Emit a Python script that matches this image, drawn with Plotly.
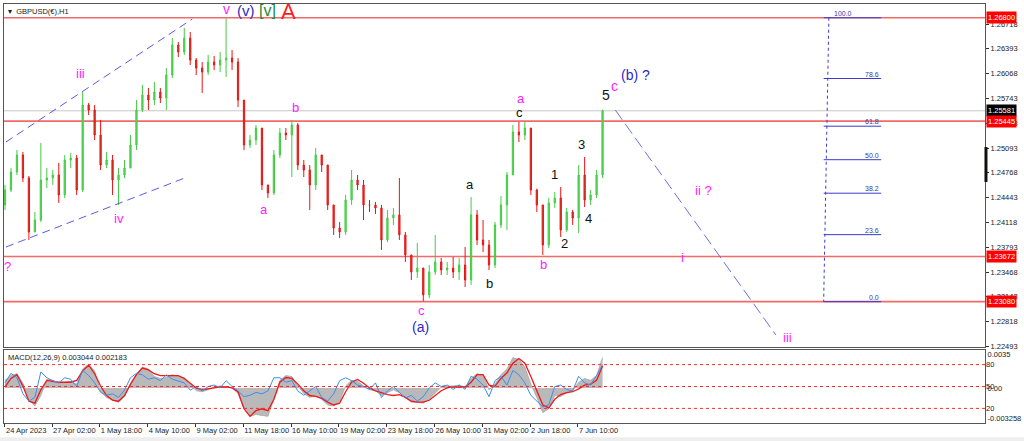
import plotly.graph_objects as go

# === PRICE DATA: GBPUSD H1, one candle per 8 hourly bars ===
bar_index = list(range(0, 801, 8))

opens = [
    1.24347, 1.24543, 1.24779, 1.25002, 1.24700, 1.23993, 1.24150, 1.24674, 1.24700, 1.24740,
    1.24478, 1.24936, 1.24962, 1.24543, 1.25657, 1.25591, 1.25264, 1.24870, 1.24936, 1.24674,
    1.24740, 1.24831, 1.25133, 1.25591, 1.25788, 1.25722, 1.25827, 1.25748, 1.26050, 1.26443,
    1.26351, 1.26534, 1.26246, 1.26141, 1.26089, 1.26220, 1.26181, 1.26246, 1.26272, 1.26220,
    1.25722, 1.25133, 1.25198, 1.25355, 1.24609, 1.24504, 1.25002, 1.25290, 1.25264, 1.25395,
    1.24870, 1.24805, 1.24609, 1.25002, 1.24870, 1.24347, 1.24045, 1.23993, 1.24412, 1.24674,
    1.24609, 1.24347, 1.24347, 1.24307, 1.23888, 1.24176, 1.24217, 1.23954, 1.23692, 1.23469,
    1.23521, 1.23167, 1.23469, 1.23600, 1.23495, 1.23521, 1.23469, 1.23561, 1.23364, 1.24217,
    1.23888, 1.23823, 1.23561, 1.24085, 1.24347, 1.24740, 1.25303, 1.25264, 1.25355, 1.24543,
    1.24347, 1.23823, 1.24373, 1.24438, 1.24019, 1.24255, 1.24176, 1.24740, 1.24412, 1.24478,
    1.24740,
]
highs = [
    1.24609, 1.24831, 1.25067, 1.25041, 1.24726, 1.24255, 1.25159, 1.24831, 1.24805, 1.24897,
    1.25002, 1.25028, 1.25002, 1.25827, 1.25683, 1.25657, 1.25460, 1.25041, 1.25002, 1.24831,
    1.24936, 1.25264, 1.25722, 1.25919, 1.25879, 1.25958, 1.25879, 1.26141, 1.26534, 1.26482,
    1.26665, 1.26613, 1.26272, 1.26220, 1.26312, 1.26298, 1.26351, 1.26790, 1.26377, 1.26272,
    1.25722, 1.25264, 1.25395, 1.25355, 1.24609, 1.25067, 1.25355, 1.25355, 1.25460, 1.25420,
    1.24936, 1.24870, 1.25093, 1.25002, 1.24870, 1.24347, 1.24124, 1.24478, 1.24805, 1.24740,
    1.24674, 1.24412, 1.24386, 1.24347, 1.24281, 1.24307, 1.24700, 1.23993, 1.23692, 1.23849,
    1.23521, 1.23561, 1.23954, 1.23652, 1.23600, 1.23665, 1.23652, 1.23796, 1.24451, 1.24281,
    1.24150, 1.23888, 1.24124, 1.24464, 1.24779, 1.25395, 1.25434, 1.25434, 1.25355, 1.24560,
    1.24347, 1.24438, 1.24517, 1.24582, 1.24307, 1.24281, 1.24870, 1.24975, 1.24543, 1.24805,
    1.25595,
]
lows = [
    1.24281, 1.24517, 1.24740, 1.24648, 1.23888, 1.23993, 1.24124, 1.24569, 1.24609, 1.24373,
    1.24438, 1.24831, 1.24478, 1.24517, 1.25526, 1.25198, 1.24805, 1.24831, 1.24478, 1.24347,
    1.24700, 1.24831, 1.25067, 1.25565, 1.25591, 1.25657, 1.25683, 1.25591, 1.26010, 1.26285,
    1.26312, 1.26181, 1.26050, 1.25814, 1.26050, 1.26115, 1.26089, 1.26023, 1.26115, 1.25630,
    1.25067, 1.25093, 1.25133, 1.24543, 1.24438, 1.24478, 1.24962, 1.25198, 1.24713, 1.24805,
    1.24713, 1.24281, 1.24543, 1.24779, 1.24281, 1.23954, 1.23914, 1.23954, 1.24347, 1.24543,
    1.24150, 1.24255, 1.24229, 1.23757, 1.23860, 1.24085, 1.23888, 1.23600, 1.23364, 1.23390,
    1.23085, 1.23128, 1.23430, 1.23430, 1.23430, 1.23390, 1.23364, 1.23272, 1.23299, 1.23823,
    1.23731, 1.23495, 1.23521, 1.24045, 1.24019, 1.24740, 1.25172, 1.25198, 1.24478, 1.24255,
    1.23692, 1.23783, 1.24307, 1.23927, 1.23993, 1.24085, 1.23980, 1.24320, 1.24347, 1.24438,
    1.24700,
]
closes = [
    1.24543, 1.24779, 1.25002, 1.24700, 1.23993, 1.24150, 1.24674, 1.24700, 1.24740, 1.24478,
    1.24936, 1.24962, 1.24543, 1.25657, 1.25591, 1.25264, 1.24870, 1.24936, 1.24674, 1.24740,
    1.24831, 1.25133, 1.25591, 1.25788, 1.25722, 1.25827, 1.25748, 1.26050, 1.26443, 1.26351,
    1.26534, 1.26246, 1.26141, 1.26089, 1.26220, 1.26181, 1.26246, 1.26272, 1.26220, 1.25722,
    1.25133, 1.25198, 1.25355, 1.24609, 1.24504, 1.25002, 1.25290, 1.25264, 1.25395, 1.24870,
    1.24805, 1.24609, 1.25002, 1.24870, 1.24347, 1.24045, 1.23993, 1.24412, 1.24674, 1.24609,
    1.24347, 1.24347, 1.24307, 1.23888, 1.24176, 1.24217, 1.23954, 1.23692, 1.23469, 1.23521,
    1.23167, 1.23469, 1.23600, 1.23495, 1.23521, 1.23469, 1.23561, 1.23364, 1.24217, 1.23888,
    1.23823, 1.23561, 1.24085, 1.24347, 1.24740, 1.25303, 1.25264, 1.25355, 1.24543, 1.24347,
    1.23823, 1.24373, 1.24438, 1.24019, 1.24255, 1.24176, 1.24740, 1.24412, 1.24478, 1.24740,
    1.25581,
]

# === MACD PANEL DATA ===
macd_hist = [
    0.0008, 0.0013, 0.0015, 0.0005, -0.0012, -0.0019, -0.0008, 0.0009, 0.0008, 0.0005,
    0.0006, 0.0007, 0.0004, 0.0020, 0.0025, 0.0018, -0.0004, -0.0010, -0.0013, -0.0015,
    -0.0009, 0.0004, 0.0015, 0.0022, 0.0020, 0.0012, 0.0010, 0.0011, 0.0014, 0.0012,
    0.0011, 0.0004, -0.0003, -0.0004, -0.0002, 0.0001, 0.0002, 0.0001, 0.0000, -0.0006,
    -0.0022, -0.0030, -0.0028, -0.0029, -0.0030, -0.0012, 0.0008, 0.0013, 0.0012, 0.0002,
    -0.0006, -0.0010, -0.0008, -0.0012, -0.0018, -0.0019, -0.0014, 0.0002, 0.0008, 0.0007,
    0.0002, -0.0002, -0.0003, -0.0008, -0.0005, -0.0002, -0.0005, -0.0010, -0.0015, -0.0015,
    -0.0016, -0.0012, -0.0005, 0.0001, 0.0002, 0.0002, 0.0003, 0.0001, 0.0010, 0.0015,
    0.0013, -0.0002, 0.0004, 0.0014, 0.0020, 0.0032, 0.0030, 0.0022, 0.0004, -0.0010,
    -0.0026, -0.0022, -0.0008, -0.0009, -0.0005, -0.0003, 0.0006, 0.0010, 0.0008, 0.0013,
    0.0032,
]
macd_signal = [
    0.0001, 0.0010, 0.0014, 0.0002, -0.0014, -0.0016, -0.0002, 0.0008, 0.0007, 0.0006,
    0.0006, 0.0006, 0.0008, 0.0018, 0.0024, 0.0015, 0.0002, -0.0008, -0.0013, -0.0014,
    -0.0008, 0.0004, 0.0014, 0.0021, 0.0019, 0.0015, 0.0013, 0.0013, 0.0013, 0.0013,
    0.0010, 0.0005, 0.0000, -0.0002, -0.0001, 0.0000, 0.0001, 0.0001, 0.0000, -0.0004,
    -0.0022, -0.0030, -0.0024, -0.0022, -0.0024, -0.0012, 0.0006, 0.0011, 0.0010, 0.0004,
    -0.0003, -0.0008, -0.0009, -0.0011, -0.0015, -0.0018, -0.0016, -0.0004, 0.0006, 0.0009,
    0.0005, 0.0000, -0.0003, -0.0005, -0.0007, -0.0008, -0.0007, -0.0010, -0.0014, -0.0015,
    -0.0015, -0.0013, -0.0008, -0.0003, 0.0000, 0.0001, 0.0001, 0.0001, 0.0006, 0.0014,
    0.0014, 0.0003, 0.0002, 0.0010, 0.0016, 0.0026, 0.0031, 0.0026, 0.0012, -0.0004,
    -0.0018, -0.0021, -0.0012, -0.0007, -0.0005, -0.0004, -0.0001, 0.0003, 0.0004, 0.0008,
    0.0023,
]
osc_blue = [
    55, 68, 62, 40, 30, 35, 70, 62, 58, 55,
    62, 60, 50, 72, 65, 55, 42, 38, 40, 35,
    45, 62, 68, 66, 60, 62, 58, 66, 60, 58,
    55, 45, 50, 44, 50, 52, 48, 58, 50, 44,
    36, 38, 42, 40, 44, 62, 62, 56, 58, 44,
    38, 44, 50, 35, 30, 40, 58, 62, 58, 52,
    50, 46, 55, 35, 44, 50, 42, 34, 38, 30,
    36, 48, 55, 50, 52, 46, 52, 46, 64, 60,
    52, 36, 58, 64, 52, 72, 66, 55, 38, 30,
    22, 25, 50, 52, 46, 44, 64, 55, 52, 65,
    80,
]
osc_levels = [80, 50, 20]

# === AXIS TICKS ===
time_tick_idx = [0, 63, 127, 191, 255, 319, 383, 447, 511, 575, 639, 703, 767]
time_tick_text = ["24 Apr 2023", "27 Apr 02:00", "1 May 18:00", "4 May 10:00", "9 May 02:00",
                  "11 May 18:00", "16 May 10:00", "19 May 02:00", "23 May 18:00", "26 May 10:00",
                  "31 May 02:00", "2 Jun 18:00", "7 Jun 10:00"]
price_ticks = [1.26718, 1.26393, 1.26068, 1.25743, 1.25418, 1.25093, 1.24768, 1.24443,
               1.24118, 1.23793, 1.23468, 1.23143, 1.22818, 1.22493]

# === LEVELS AND DRAWINGS ===
red_levels = [1.26800, 1.25445, 1.23672, 1.23080]
bid_price = 1.25581
fib_high, fib_low = 1.26800, 1.23080
fib_levels = [0.0, 23.6, 38.2, 50.0, 61.8, 78.6, 100.0]
# trendlines: (bar0, price0, bar1, price1)
channel_upper = (1.3, 1.25172, 250.7, 1.26783)
channel_lower = (1.3, 1.23796, 244.0, 1.24713)
projection = (817, 1.25591, 1032, 1.22644)

MAG, BLUE, BLK = "#ff22ff", "#2b2bc8", "#111111"
# wave labels: (text, bar, price, color, size)
wave_labels = [
    ("v", 296, 1.26914, MAG, 14), ("(v)", 323, 1.26901, BLUE, 15),
    ("[v]", 351, 1.26901, "#1e8b3c", 16), ("A", 379, 1.26880, "#ff1a1a", 22),
    ("iii", 101, 1.26063, MAG, 13), ("iv", 152, 1.24176, MAG, 13), ("?", 3, 1.23547, MAG, 13),
    ("b", 389, 1.25630, MAG, 13), ("a", 347, 1.24294, MAG, 13),
    ("c", 557, 1.22958, MAG, 13), ("(a)", 556, 1.22748, BLUE, 14),
    ("a", 623, 1.24609, BLK, 13), ("b", 648, 1.23312, BLK, 13),
    ("a", 691, 1.25748, MAG, 13), ("c", 689, 1.25552, BLK, 13), ("b", 721, 1.23561, MAG, 13),
    ("1", 736, 1.24740, BLK, 13), ("2", 749, 1.23836, BLK, 13), ("3", 772, 1.25133, BLK, 13),
    ("4", 781, 1.24176, BLK, 13), ("5", 804, 1.25788, BLK, 14), ("c", 816, 1.25905, MAG, 14),
    ("(b) ?", 844, 1.26050, BLUE, 14), ("ii ?", 935, 1.24543, MAG, 13),
    ("i", 907, 1.23665, MAG, 13), ("iii", 1047, 1.22604, MAG, 13),
]

FONT = "Liberation Sans"
X_RANGE = [-1.33, 1312]

fig = go.Figure()

fig.add_trace(go.Candlestick(
    x=bar_index, open=opens, high=highs, low=lows, close=closes,
    increasing=dict(line=dict(color="#44cc44", width=1), fillcolor="#5fd85f"),
    decreasing=dict(line=dict(color="#e81414", width=1), fillcolor="#b0522a"),
    whiskerwidth=0, xaxis="x", yaxis="y", showlegend=False, hoverinfo="skip",
))

fig.add_trace(go.Scatter(
    x=bar_index, y=macd_hist, mode="lines", fill="tozeroy",
    line=dict(color="#a8a8a8", width=0.8), fillcolor="#b9b9b9",
    xaxis="x2", yaxis="y2", showlegend=False, hoverinfo="skip",
))
fig.add_trace(go.Scatter(
    x=bar_index, y=osc_blue, mode="lines", line=dict(color="#3d8ef0", width=1),
    xaxis="x2", yaxis="y3", showlegend=False, hoverinfo="skip",
))
fig.add_trace(go.Scatter(
    x=bar_index, y=macd_signal, mode="lines", line=dict(color="#f01818", width=1.3),
    xaxis="x2", yaxis="y2", showlegend=False, hoverinfo="skip",
))

shapes = []
for lvl in red_levels:
    shapes.append(dict(type="line", xref="paper", yref="y", x0=0, x1=1, y0=lvl, y1=lvl,
                       line=dict(color="#f26a6a", width=1.6), layer="below"))
shapes.append(dict(type="line", xref="paper", yref="y", x0=0, x1=1, y0=bid_price, y1=bid_price,
                   line=dict(color="#c8c8c8", width=1), layer="below"))
for seg, dash, col in [(channel_upper, "8px,5px", "#5a5ae6"),
                       (channel_lower, "8px,5px", "#5a5ae6"),
                       (projection, "12px,5px", "#6f6fe0")]:
    shapes.append(dict(type="line", xref="x", yref="y", x0=seg[0], y0=seg[1], x1=seg[2], y1=seg[3],
                       line=dict(color=col, width=1, dash=dash)))

# fibonacci retracement
fib_x0, fib_x1 = 1096, 1173
for lvl in fib_levels:
    p = fib_low + lvl / 100 * (fib_high - fib_low)
    shapes.append(dict(type="line", xref="x", yref="y", x0=fib_x0, x1=fib_x1, y0=p, y1=p,
                       line=dict(color="#3a3ad0", width=1)))
shapes.append(dict(type="line", xref="x", yref="y", x0=1103, y0=fib_high, x1=fib_x0, y1=fib_low,
                   line=dict(color="#3a3ad0", width=1, dash="dot")))

# oscillator levels
for lvl in osc_levels:
    shapes.append(dict(type="line", xref="paper", yref="y3", x0=0, x1=1, y0=lvl, y1=lvl,
                       line=dict(color="#f03030", width=1, dash="dot")))

# marker on price scale
shapes.append(dict(type="line", xref="paper", yref="y", x0=1.001, x1=1.001, y0=1.24648, y1=1.25106,
                   line=dict(color="#111111", width=3)))
# bottom window strip
shapes.append(dict(type="rect", xref="paper", yref="paper", x0=-0.01, x1=1.05, y0=-0.043, y1=-0.034,
                   fillcolor="#eeeeee", line=dict(width=0)))

annotations = []
for text, bx, py, col, sz in wave_labels:
    annotations.append(dict(x=bx, y=py, xref="x", yref="y", text=text, showarrow=False,
                            font=dict(family=FONT, size=sz, color=col)))

for lvl in fib_levels:
    p = fib_low + lvl / 100 * (fib_high - fib_low)
    annotations.append(dict(x=1137 if lvl == 100.0 else fib_x1, y=p, xref="x", yref="y",
                            text=f"{lvl:.1f}", showarrow=False, xanchor="right", yanchor="bottom",
                            yshift=-1, font=dict(family=FONT, size=7, color="#3a3a9a")))

for lvl, bg in [(1.26800, "#ff0000"), (bid_price, "#000000"), (1.25445, "#ff0000"),
                (1.23672, "#ff0000"), (1.23080, "#ff0000")]:
    annotations.append(dict(x=1, y=lvl, xref="paper", yref="y", text=f"{lvl:.5f}", showarrow=False,
                            xanchor="left", xshift=1, bgcolor=bg, borderpad=1,
                            font=dict(family=FONT, size=7.5, color="white")))

annotations.append(dict(x=0, y=1, xref="paper", yref="paper", text="▾  GBPUSD(€),H1", showarrow=False,
                        xanchor="left", yanchor="top", xshift=2, yshift=-1,
                        font=dict(family=FONT, size=7.5, color="#222222")))
annotations.append(dict(x=0, y=1, xref="paper", yref="y2 domain", text="MACD(12,26,9) 0.003044 0.002183",
                        showarrow=False, xanchor="left", yanchor="top", xshift=2, yshift=-1,
                        font=dict(family=FONT, size=7.5, color="#222222")))

axis_font = dict(family=FONT, size=7.5, color="#222222")
fig.update_layout(
    width=1024, height=441,
    margin=dict(l=3, r=36, t=4, b=18),
    paper_bgcolor="white", plot_bgcolor="white",
    boxgap=0.7,
    shapes=shapes, annotations=annotations,
    xaxis=dict(domain=[0, 1], range=X_RANGE, anchor="y", showticklabels=False, ticks="",
               showgrid=False, zeroline=False, showline=True, mirror=True, linecolor="#555555",
               rangeslider=dict(visible=False)),
    yaxis=dict(domain=[0.1814, 1], range=[1.22486, 1.26980], anchor="x", side="right",
               tickvals=price_ticks, tickformat=".5f", ticks="outside", ticklen=3, tickcolor="#333",
               showgrid=False, zeroline=False, showline=True, mirror=True, linecolor="#555555",
               tickfont=axis_font),
    xaxis2=dict(domain=[0, 1], range=X_RANGE, anchor="y2", tickvals=time_tick_idx,
                ticktext=time_tick_text, ticks="outside", ticklen=3, tickcolor="#333", tickangle=0,
                ticklabelposition="outside right", showgrid=False, zeroline=False,
                showline=True, mirror=True, linecolor="#555555", tickfont=axis_font),
    yaxis2=dict(domain=[0, 0.1742], range=[-0.0037, 0.0040], anchor="x2", side="right",
                tickvals=[0.0035, 0.0, -0.003258], ticktext=["0.0035", "0.00", "-0.003258"],
                ticks="", showgrid=False, zeroline=False, showline=True, mirror=True,
                linecolor="#555555", tickfont=axis_font),
    yaxis3=dict(overlaying="y2", anchor="x2", side="right", range=[0, 100],
                tickvals=osc_levels, ticks="", showgrid=False, zeroline=False,
                showline=False, tickfont=axis_font),
)

# the page body has a default 8px margin; remove it so the chart sits at the window origin
fig.write_html("out.html", config={"displayModeBar": False},
               post_script="document.body.style.margin='0';")
